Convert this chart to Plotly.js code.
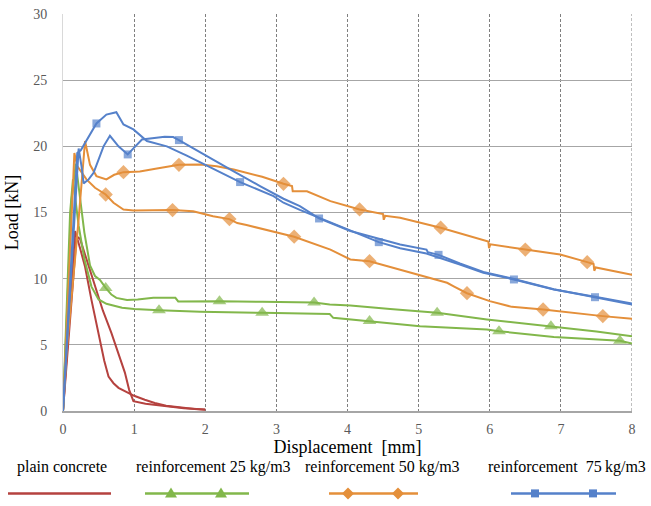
<!DOCTYPE html>
<html><head><meta charset="utf-8">
<script src="https://cdn.plot.ly/plotly-3.0.1.min.js"></script>
<style>html,body{margin:0;padding:0;background:#fff}#chart{width:651px;height:506px}</style>
</head><body><div id="chart"></div>
<script>
// ---- data (displacement mm, load kN) ----
const plainAX = [0,0.17,0.24,0.31,0.40,0.50,0.58,0.64,0.71,0.78,0.90,1.0,1.15,1.29,1.45,1.65,1.85,2.0];
const plainAY = [0,13.6,12.3,10.9,8.4,5.9,3.8,2.6,2.1,1.75,1.4,1.15,0.85,0.6,0.4,0.25,0.15,0.1];
const plainBX = [0,0.19,0.24,0.35,0.45,0.56,0.68,0.78,0.87,0.93,0.99,1.16,1.43,1.7,2.0];
const plainBY = [0,13.2,13.0,11.2,9.4,7.6,5.9,4.3,2.9,1.6,0.74,0.55,0.36,0.2,0.12];

const r25AX = [0,0.12,0.18,0.24,0.3,0.38,0.45,0.52,0.6,0.68,0.75,0.9,1.05,1.27,1.58,1.62,2.2,2.8,3.53,3.75,4.04,4.6,5.26,5.96,6.86,7.5,8.0];
const r25AY = [0,16,18.7,16,13.5,11,10.2,9.9,9.3,8.8,8.55,8.38,8.42,8.55,8.55,8.28,8.3,8.25,8.2,8.05,7.97,7.7,7.42,6.92,6.41,6.0,5.65];
const r25AM = [0.6,2.2,3.53,5.26,6.86];
const r25BX = [0,0.1,0.14,0.22,0.3,0.4,0.5,0.61,0.83,1.0,1.35,1.93,2.8,3.75,3.8,4.31,5.02,5.96,6.13,6.9,7.83,8.0];
const r25BY = [0,15,17.5,14,11.5,9.4,8.43,8.1,7.8,7.7,7.62,7.5,7.42,7.33,7.04,6.8,6.41,6.16,6.03,5.6,5.3,5.1];
const r25BM = [1.35,2.8,4.31,6.13,7.83];

const r50AX = [0,0.05,0.22,0.31,0.38,0.47,0.61,0.72,0.85,1.08,1.3,1.63,1.93,2.16,2.4,2.8,3.1,3.22,3.23,3.43,3.76,4.17,4.5,4.51,4.53,4.74,5.31,5.86,5.98,5.99,6.01,6.5,6.99,7.37,7.46,7.47,7.49,8.0];
const r50AY = [0,4.4,14.5,20.4,18.6,17.75,17.5,17.85,18.05,18.1,18.3,18.6,18.63,18.5,18.25,17.7,17.17,17.0,16.6,16.6,15.86,15.23,14.88,14.45,14.75,14.6,13.85,12.96,12.8,12.3,12.6,12.2,11.83,11.25,11.1,10.6,10.85,10.3];
const r50AM = [0.85,1.63,3.1,4.17,5.31,6.5,7.37];
const r50BX = [0,0.16,0.2,0.33,0.45,0.6,0.71,0.85,0.99,1.54,1.83,2.11,2.34,2.45,2.58,3.25,3.76,3.94,4.04,4.31,4.97,5.4,5.5,5.68,6.0,6.31,6.75,7.22,7.59,8.0];
const r50BY = [0,19.5,18.5,17.5,16.87,16.36,15.74,15.23,15.15,15.18,15.1,14.72,14.5,14.2,14.05,13.17,12.2,11.75,11.45,11.32,10.32,9.69,9.4,8.9,8.3,7.87,7.67,7.37,7.17,6.97];
const r50BM = [0.6,1.54,2.34,3.25,4.31,5.68,6.75,7.59];

const r75AX = [0,0.2,0.25,0.35,0.47,0.61,0.75,0.85,0.99,1.18,1.46,1.74,2.11,2.49,2.96,3.1,3.33,3.6,4.04,4.44,4.74,5.11,5.58,5.91,6.34,6.9,7.48,8.0];
const r75AY = [0,19.5,19.7,20.6,21.73,22.4,22.58,21.65,21.28,20.4,20.0,19.3,18.3,17.3,16.24,15.74,15.2,14.6,13.6,12.76,12.3,11.9,11.07,10.45,9.94,9.18,8.63,8.12];
const r75AM = [0.47,2.49,4.44,6.34];
const r75BX = [0,0.22,0.26,0.29,0.36,0.43,0.57,0.66,0.78,0.91,1.0,1.11,1.43,1.55,1.63,2.02,2.35,2.77,3.1,3.33,3.47,3.6,4.04,4.74,5.11,5.13,5.28,5.58,5.91,6.34,6.9,7.48,8.0];
const r75BY = [0,19.84,18.5,17.2,17.5,18.0,20.0,20.8,20.0,19.39,19.9,20.52,20.72,20.7,20.47,19.26,18.25,17.0,16.04,15.48,14.98,14.55,13.6,12.58,12.2,12.0,11.8,11.15,10.5,9.98,9.2,8.6,8.05];
const r75BM = [0.91,1.63,3.6,5.28,7.48];

const xTicks = [0,1,2,3,4,5,6,7,8];
const yTicks = [0,5,10,15,20,25,30];
const seriesNames = ['plain concrete','reinforcement 25 kg/m3','reinforcement 50 kg/m3','reinforcement\u00a0 75\u2009kg/m3'];

// ---- styles ----
const C_RED = '#b5423f', C_GREEN = '#82b74b', C_ORANGE = '#e48f3a', C_BLUE = '#5581ca';
const FONT = '"Liberation Serif", "DejaVu Serif", serif';

function curve(xs, ys, mk, color, symbol, msize) {
  const sizes = xs.map(v => (mk && mk.indexOf(v) >= 0) ? msize : 0);
  return {
    x: xs, y: ys, type: 'scatter', mode: mk ? 'lines+markers' : 'lines',
    line: {color: color, width: 2, shape: 'linear'},
    marker: {symbol: symbol, size: sizes, color: color, line: {width: 0}},
    showlegend: false, hoverinfo: 'skip', cliponaxis: false
  };
}

const traces = [
  curve(plainAX, plainAY, null, C_RED),
  curve(plainBX, plainBY, null, C_RED),
  curve(r25AX, r25AY, r25AM, C_GREEN, 'triangle-up', 12),
  curve(r25BX, r25BY, r25BM, C_GREEN, 'triangle-up', 12),
  curve(r50AX, r50AY, r50AM, C_ORANGE, 'diamond', 11),
  curve(r50BX, r50BY, r50BM, C_ORANGE, 'diamond', 11),
  curve(r75AX, r75AY, r75AM, C_BLUE, 'square', 8),
  curve(r75BX, r75BY, r75BM, C_BLUE, 'square', 8)
];

// ---- custom legend below the plot (layout positions in pixels -> paper) ----
const L = 63, R = 19, T = 14, B = 94.5, W = 651, H = 506;
const pw = W - L - R, ph = H - T - B;
const px = v => (v - L) / pw;
const py = v => (H - B - v) / ph;
const legTextY = 468, legLineY = 494;
const legend = [
  {name: seriesNames[0], cx: 62, x0: 8, x1: 111, color: C_RED, mk: []},
  {name: seriesNames[1], cx: 214, x0: 145, x1: 249, color: C_GREEN, mk: [171, 221], path: 'M -6 -4 L 6 -4 L 0 6 Z'},
  {name: seriesNames[2], cx: 382, x0: 329, x1: 418, color: C_ORANGE, mk: [348, 398], path: 'M 0 6 L 6 0 L 0 -6 L -6 0 Z'},
  {name: seriesNames[3], cx: 567, x0: 511, x1: 616, color: C_BLUE, mk: [535, 593], path: 'M -4 -4 L 4 -4 L 4 4 L -4 4 Z'}
];
const shapes = [
  {type: 'line', xref: 'x', yref: 'paper', x0: 8, x1: 8, y0: 0, y1: 1, line: {color: '#7f7f7f', width: 1, dash: '3px,2px'}, layer: 'below'}
];
const annotations = [];
legend.forEach(it => {
  shapes.push({type: 'line', xref: 'paper', yref: 'paper', x0: px(it.x0), x1: px(it.x1), y0: py(legLineY), y1: py(legLineY),
               line: {color: it.color, width: 2.5}});
  it.mk.forEach(m => shapes.push({type: 'path', xref: 'paper', yref: 'paper', xsizemode: 'pixel', ysizemode: 'pixel',
               xanchor: px(m), yanchor: py(legLineY), path: it.path, fillcolor: it.color, line: {width: 0}}));
  annotations.push({xref: 'paper', yref: 'paper', x: px(it.cx), y: py(legTextY), text: it.name, showarrow: false,
               xanchor: 'center', yanchor: 'middle', font: {family: FONT, size: 16, color: '#000'}});
});

const layout = {
  width: W, height: H,
  margin: {l: L, r: R, t: T, b: B, pad: 0},
  paper_bgcolor: '#fff', plot_bgcolor: '#fff',
  font: {family: FONT, size: 14, color: '#595959'},
  xaxis: {
    range: [0, 8], tickvals: xTicks, ticktext: xTicks.map(String),
    showgrid: true, gridcolor: '#7f7f7f', griddash: '3px,2px', gridwidth: 1,
    zeroline: false, showline: true, linecolor: '#a6a6a6', linewidth: 1.5, mirror: false,
    ticks: '', ticklabelstandoff: 5,
    tickfont: {family: FONT, size: 14, color: '#595959'},
    title: {text: 'Displacement\u00a0 [mm]', font: {family: FONT, size: 18, color: '#000'}, standoff: 2}
  },
  yaxis: {
    range: [0, 30], tickvals: yTicks, ticktext: yTicks.map(String),
    showgrid: true, gridcolor: '#a6a6a6', gridwidth: 1.3,
    zeroline: false, showline: true, linecolor: '#d9d9d9', linewidth: 1,
    ticks: '', ticklabelstandoff: 12,
    tickfont: {family: FONT, size: 14, color: '#595959'},
    title: {text: 'Load [kN]', font: {family: FONT, size: 18, color: '#000'}, standoff: 9}
  },
  shapes: shapes, annotations: annotations, showlegend: false
};

Plotly.newPlot('chart', traces, layout, {displayModeBar: false, staticPlot: true});
</script></body></html>
